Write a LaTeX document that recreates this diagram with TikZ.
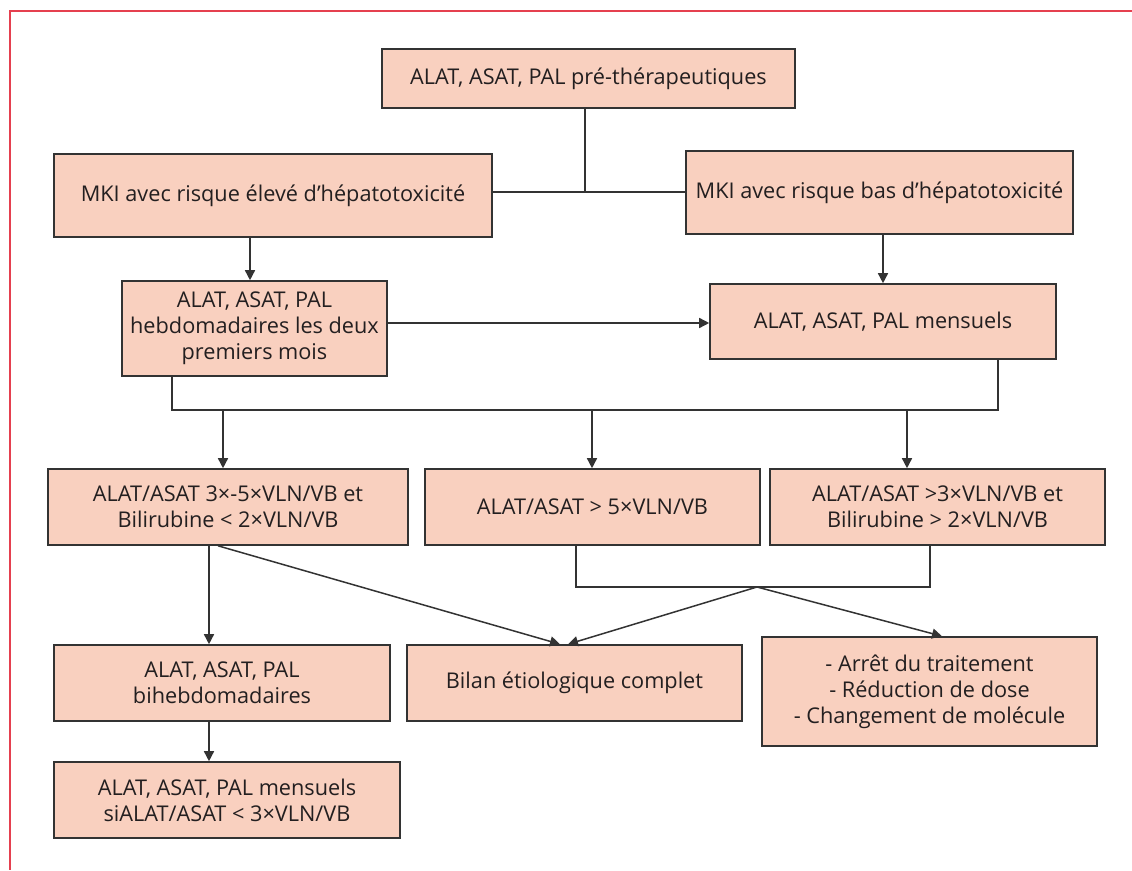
\documentclass[tikz,border=0pt]{standalone}
\usepackage{fontspec}
\setmainfont{Open Sans}
\usetikzlibrary{arrows.meta}
\definecolor{boxfill}{HTML}{F9D0BF}
\definecolor{boxline}{HTML}{333333}
\definecolor{txt}{HTML}{231F20}
\definecolor{frame}{HTML}{E5404F}
\tikzset{
  box/.style={draw=boxline, fill=boxfill, line width=1.6pt, inner sep=0pt,
    align=center, text=txt, font=\fontsize{21.7}{26}\selectfont},
  conn/.style={draw=boxline, line width=1.5pt},
  arr/.style={conn, -{Triangle[length=10pt,width=10pt]}}
}
\begin{document}
\begin{tikzpicture}[x=1pt,y=-1pt]
\useasboundingbox (0,0) rectangle (1132,870);
\draw[frame, line width=1.2pt] (1132,11) -- (10,11) -- (10,870);

\node[box, minimum width=413pt, minimum height=59pt] (T) at (588.5,78.5) {ALAT, ASAT, PAL pré-thérapeutiques};
\node[box, minimum width=438pt, minimum height=83pt] (E) at (273,195.5) {MKI avec risque élevé d’hépatotoxicité};
\node[box, minimum width=387pt, minimum height=83pt] (B) at (879.5,192.5) {MKI avec risque bas d’hépatotoxicité};
\node[box, minimum width=265pt, minimum height=95pt] (H) at (254.5,328.5) {ALAT, ASAT, PAL\\hebdomadaires les deux\\premiers mois};
\node[box, minimum width=346pt, minimum height=75pt] (M) at (883,321.5) {ALAT, ASAT, PAL mensuels};
\node[box, minimum width=360pt, minimum height=76pt] (A) at (228,507) {ALAT/ASAT 3×-5×VLN/VB et\\Bilirubine < 2×VLN/VB};
\node[box, minimum width=335pt, minimum height=76pt] (Bv) at (592.5,507) {ALAT/ASAT > 5×VLN/VB};
\node[box, minimum width=335pt, minimum height=76pt] (C) at (937.5,507) {ALAT/ASAT >3×VLN/VB et\\Bilirubine > 2×VLN/VB};
\node[box, minimum width=335pt, minimum height=76pt] (D) at (574.5,683) {Bilan étiologique complet};
\node[box, minimum width=335pt, minimum height=109pt] (R) at (929.5,691.5) {- Arrêt du traitement\\- Réduction de dose\\- Changement de molécule};
\node[box, minimum width=336pt, minimum height=76pt] (F) at (222,683) {ALAT, ASAT, PAL\\bihebdomadaires};
\node[box, minimum width=346pt, minimum height=76pt] (G) at (227,800) {ALAT, ASAT, PAL mensuels\\siALAT/ASAT < 3×VLN/VB};

\coordinate (j1) at (585,192);
\coordinate (bus) at (0,410);
\coordinate (j2) at (757,587);

\draw[conn] (585,0 |- T.south) -- (j1);
\draw[conn] (E.east |- j1) -- (B.west |- j1);
\draw[arr] (250,0 |- E.south) -- (250,0 |- H.north);
\draw[arr] (883,0 |- B.south) -- (883,0 |- M.north);
\draw[arr] (H.east |- 0,323) -- (M.west |- 0,323);
\draw[conn] (172,0 |- H.south) -- (172,0 |- bus) -- (998,0 |- bus) -- (998,0 |- M.south);
\draw[arr] (223,0 |- bus) -- (223,0 |- A.north);
\draw[arr] (592,0 |- bus) -- (592,0 |- Bv.north);
\draw[arr] (907,0 |- bus) -- (907,0 |- C.north);
\draw[conn] (576,0 |- Bv.south) -- (576,0 |- j2) -- (930,0 |- j2) -- (930,0 |- C.south);
\draw[arr] (j2) -- (568,0 |- D.north);
\draw[arr] (j2) -- (942,0 |- R.north);
\draw[arr] (218,0 |- A.south) -- (560,0 |- D.north);
\draw[arr] (209,0 |- A.south) -- (209,0 |- F.north);
\draw[arr] (209,0 |- F.south) -- (209,0 |- G.north);
\end{tikzpicture}
\end{document}
